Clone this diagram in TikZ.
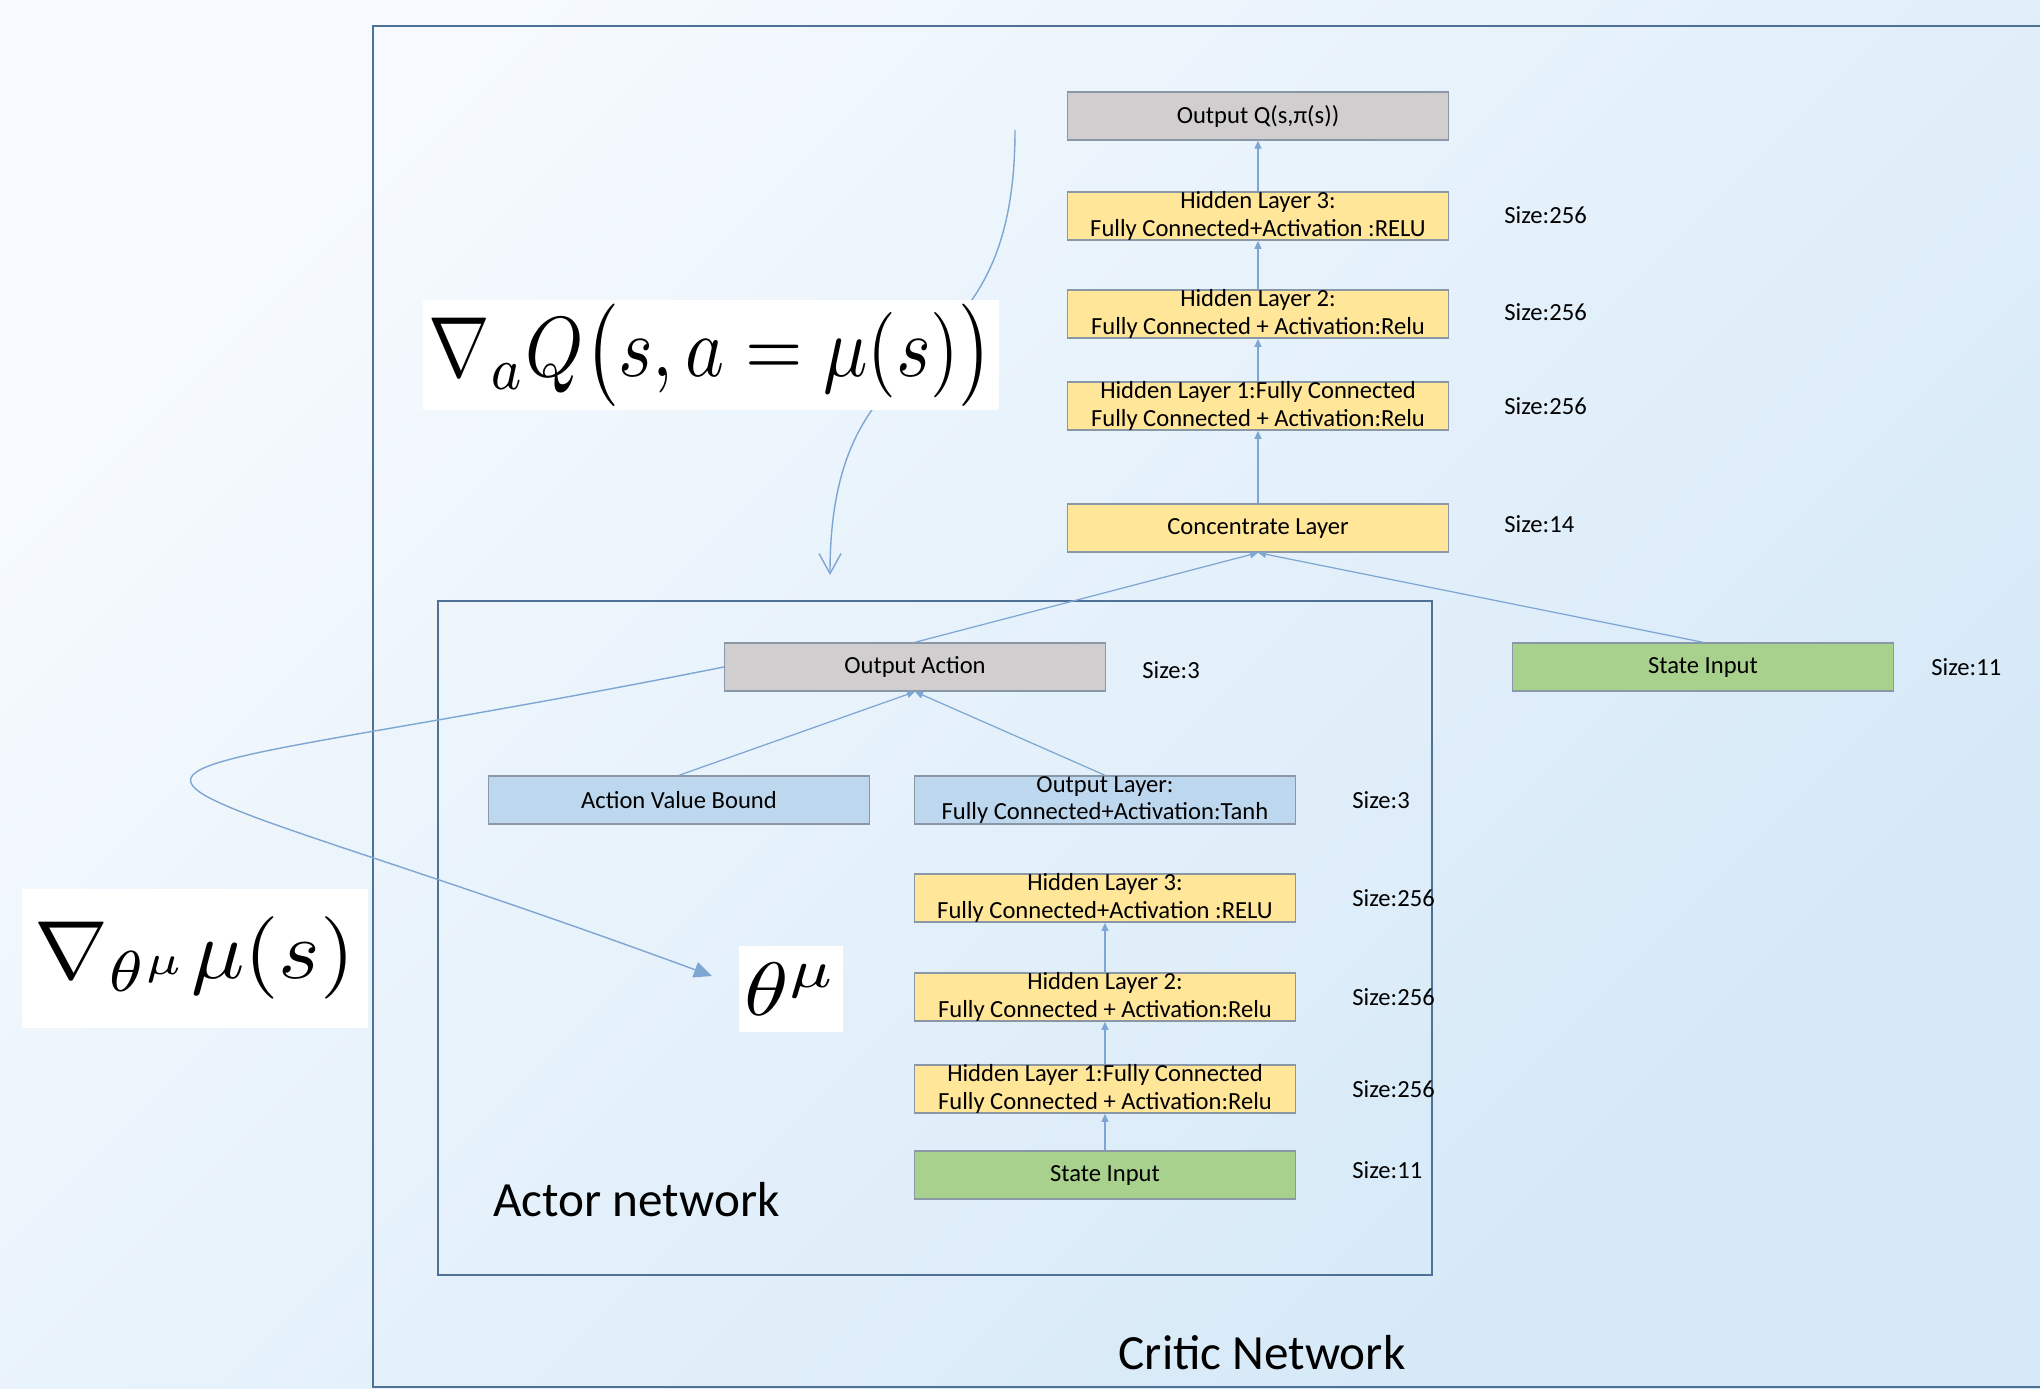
\documentclass[tikz,border=0pt]{standalone}
\usepackage{fontspec}
\setmainfont{Carlito}
\usepackage{graphicx}
\usetikzlibrary{arrows.meta}

\definecolor{bgtop}{HTML}{F6FAFE}
\definecolor{bgbot}{HTML}{D4E8F7}
\definecolor{frameline}{HTML}{4F7196}
\definecolor{boxline}{HTML}{8A97A6}
\definecolor{linkline}{HTML}{7EA6D3}
\definecolor{layeryellow}{HTML}{FFE699}
\definecolor{outgray}{HTML}{D0CECE}
\definecolor{boundblue}{HTML}{BDD7EE}
\definecolor{inputgreen}{HTML}{A9D18E}

\tikzset{
  layerbox/.style={draw=boxline, line width=0.8pt, minimum width=7.62cm, minimum height=9.6mm,
    inner sep=0pt, align=center, font=\fontsize{14}{15.5}\selectfont},
  hiddenbox/.style={layerbox, fill=layeryellow},
  outbox/.style={layerbox, fill=outgray},
  boundbox/.style={layerbox, fill=boundblue},
  inbox/.style={layerbox, fill=inputgreen},
  sizelabel/.style={anchor=west, inner sep=0pt, font=\fontsize{14}{16}\selectfont},
  nettitle/.style={inner sep=0pt, font=\fontsize{28}{32}\selectfont},
  netframe/.style={draw=frameline, line width=1pt},
  linkarrow/.style={draw=linkline, line width=0.7pt, -{Triangle[length=1.6mm,width=1.4mm]}},
  gradarrow/.style={draw=linkline, line width=0.8pt},
  formulabox/.style={fill=white, inner sep=0pt},
}

\begin{document}
\begin{tikzpicture}[x=0.2mm, y=-0.2mm]
  % background and frames
  \shade[top color=bgtop, bottom color=bgbot, shading angle=45] (0,0) rectangle (2040,1389);
  \useasboundingbox (0,0) rectangle (2040,1389);
  \draw[netframe] (373,26) rectangle (2080,1387);
  \draw[netframe] (438,601) rectangle (1432,1275);

  % critic network
  \node[outbox] (outq) at (1258,116) {Output Q(s,π(s))};
  \node[hiddenbox] (chl3) at (1258,216) {Hidden Layer 3:\\Fully Connected+Activation :RELU};
  \node[hiddenbox] (chl2) at (1258,314) {Hidden Layer 2:\\Fully Connected + Activation:Relu};
  \node[hiddenbox] (chl1) at (1258,406) {Hidden Layer 1:Fully Connected\\Fully Connected + Activation:Relu};
  \node[hiddenbox] (conc) at (1258,528) {Concentrate Layer};
  \node[inbox] (csin) at (1703,667) {State Input};

  \node[sizelabel] (schl3) at (1504,215) {Size:256};
  \node[sizelabel] (schl2) at (1504,312) {Size:256};
  \node[sizelabel] (schl1) at (1504,406) {Size:256};
  \node[sizelabel] (sconc) at (1504,524) {Size:14};
  \node[sizelabel] (scsin) at (1931,667) {Size:11};

  % actor network
  \node[outbox] (oact) at (915,667) {Output Action};
  \node[boundbox] (avb) at (679,800) {Action Value Bound};
  \node[boundbox] (olay) at (1105,800) {Output Layer:\\Fully Connected+Activation:Tanh};
  \node[hiddenbox] (ahl3) at (1105,898) {Hidden Layer 3:\\Fully Connected+Activation :RELU};
  \node[hiddenbox] (ahl2) at (1105,997) {Hidden Layer 2:\\Fully Connected + Activation:Relu};
  \node[hiddenbox] (ahl1) at (1105,1089) {Hidden Layer 1:Fully Connected\\Fully Connected + Activation:Relu};
  \node[inbox] (asin) at (1105,1175) {State Input};

  \node[sizelabel] (soact) at (1142,670) {Size:3};
  \node[sizelabel] (solay) at (1352,800) {Size:3};
  \node[sizelabel] (sahl3) at (1352,898) {Size:256};
  \node[sizelabel] (sahl2) at (1352,997) {Size:256};
  \node[sizelabel] (sahl1) at (1352,1089) {Size:256};
  \node[sizelabel] (sasin) at (1352,1170) {Size:11};

  \node[nettitle, anchor=west] (actt) at (493,1200) {Actor network};
  \node[nettitle] (critt) at (1262,1353) {Critic Network};

  % links
  \draw[linkarrow] (conc) -- (chl1);
  \draw[linkarrow] (chl1) -- (chl2);
  \draw[linkarrow] (chl2) -- (chl3);
  \draw[linkarrow] (chl3) -- (outq);
  \draw[linkarrow] (oact.north) -- (conc.south);
  \draw[linkarrow] (csin.north) -- (conc.south);
  \draw[linkarrow] (avb.north) -- (oact.south);
  \draw[linkarrow] (olay.north) -- (oact.south);
  \draw[linkarrow] (asin) -- (ahl1);
  \draw[linkarrow] (ahl1) -- (ahl2);
  \draw[linkarrow] (ahl2) -- (ahl3);

  % gradients
  \coordinate (gradtop) at (1015,130);
  \coordinate (gradend) at (830,575);
  \draw[gradarrow, -{Straight Barb[length=4mm,width=4.4mm]}] (gradtop) .. controls (1015,400) and (830,311) .. (gradend);
  \coordinate (thetatip) at (712,976);
  \draw[gradarrow, -{Triangle[length=3.6mm,width=3.2mm]}] (oact.west) .. controls (5,810) and (30,725) .. (thetatip);

  \node[formulabox, minimum width=11.52cm, minimum height=2.18cm] (gradq) at (711,355)
    {\resizebox*{11.3cm}{2.05cm}{$\nabla_{a} Q\bigl(s, a = \mu(s)\bigr)$}};
  \node[formulabox, minimum width=6.92cm, minimum height=2.78cm] (gradmu) at (195,958)
    {\resizebox*{6.4cm}{1.65cm}{$\nabla_{\theta^{\mu}}\mu(s)$}};
  \node[formulabox, minimum width=2.08cm, minimum height=1.72cm] (thetamu) at (791,989)
    {\resizebox*{1.85cm}{1.05cm}{$\theta^{\mu}$}};
\end{tikzpicture}
\end{document}
